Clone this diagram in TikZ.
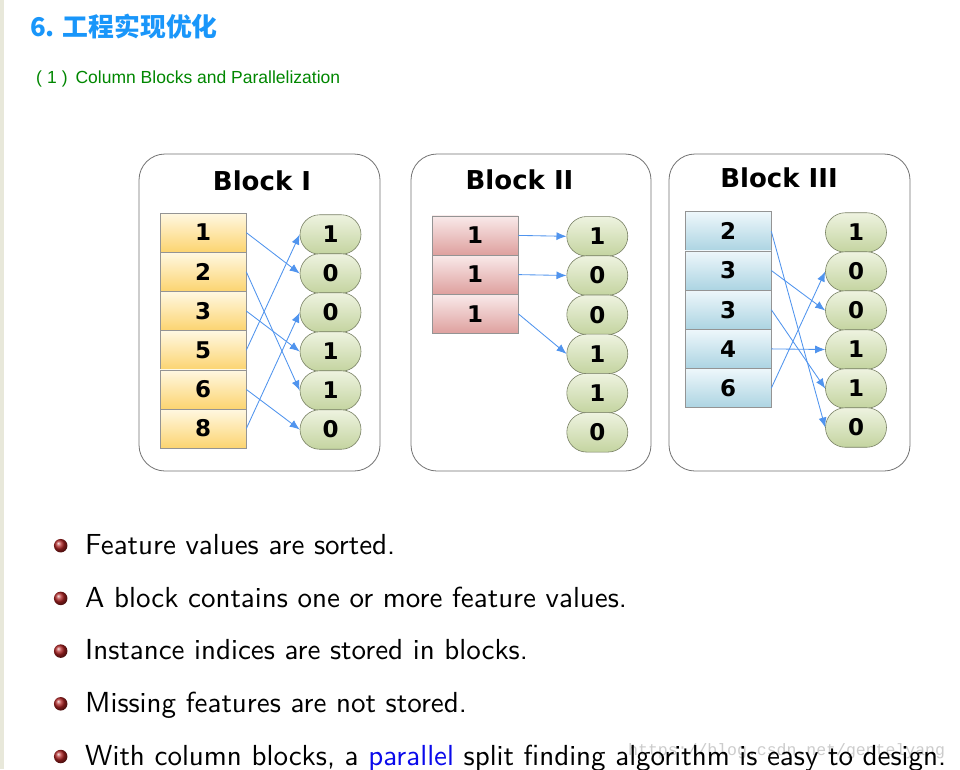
\documentclass[tikz,border=0pt]{standalone}
\usepackage{fontspec}
\usetikzlibrary{arrows.meta,shapes.misc}
\newfontfamily\cjk{Noto Sans CJK SC}
\newfontfamily\verd{DejaVu Sans}
\newfontfamily\arialf{Liberation Sans}
\newfontfamily\monof{Liberation Mono}
\newfontfamily\lmsten{lmsans10-regular.otf}
\definecolor{titleblue}{RGB}{25,150,250}
\definecolor{subgreen}{RGB}{0,135,0}
\definecolor{stripcol}{RGB}{232,232,218}
\definecolor{linkblue}{RGB}{80,148,238}
\definecolor{textblue}{RGB}{10,10,235}
\definecolor{bulletred}{RGB}{175,35,35}
\definecolor{yTop}{RGB}{255,248,226}
\definecolor{yBot}{RGB}{252,212,112}
\definecolor{rTop}{RGB}{249,234,234}
\definecolor{rBot}{RGB}{222,160,158}
\definecolor{bTop}{RGB}{238,247,251}
\definecolor{bBot}{RGB}{172,212,226}
\definecolor{gTop}{RGB}{238,243,224}
\definecolor{gBot}{RGB}{196,212,160}
\definecolor{gEdge}{RGB}{120,128,100}
\begin{document}
\begin{tikzpicture}[x=1pt,y=-1pt,
  blockbox/.style={draw=black!55, line width=0.8pt, rounded corners=26pt, fill=white, inner sep=0pt},
  blocktitle/.style={font=\verd\bfseries\fontsize{26}{30}\selectfont, anchor=base, inner sep=0pt},
  cellbase/.style={draw=black!42, line width=0.6pt, minimum width=86pt, minimum height=39.2pt, inner sep=0pt, font=\verd\bfseries\fontsize{23}{26}\selectfont},
  ycell/.style={cellbase, top color=yTop, bottom color=yBot},
  rcell/.style={cellbase, top color=rTop, bottom color=rBot},
  bcell/.style={cellbase, top color=bTop, bottom color=bBot},
  pill/.style={rounded rectangle, draw=gEdge, line width=0.6pt, minimum width=61pt, minimum height=39.5pt, inner sep=0pt, top color=gTop, bottom color=gBot, font=\verd\bfseries\fontsize{23}{26}\selectfont},
  link/.style={draw=linkblue, line width=0.85pt, -{Latex[length=10pt,width=8pt]}},
  bullettext/.style={anchor=base west, inner sep=0pt, font=\lmsten\fontsize{29}{34}\selectfont},
  ballmark/.style={circle, shading=ball, ball color=bulletred, minimum size=13.5pt, inner sep=0pt}
]
\useasboundingbox (0,0) rectangle (960,769);
\clip (0,0) rectangle (960,769);
\fill[white] (0,0) rectangle (960,769);
\fill[stripcol] (0,0) rectangle (4,769);

% headings
\node[anchor=base west, inner sep=0pt, text=titleblue, font=\cjk\bfseries\fontsize{25.8}{30}\selectfont] (title) at (30,36) {6. 工程实现优化};
\node[anchor=base west, inner sep=0pt, text=subgreen, font=\arialf\fontsize{17.5}{20}\selectfont] (sub) at (36,83) {(\hspace{5pt}1\hspace{5pt})\hspace{8pt}Column Blocks and Parallelization};

% block frames
\node[blockbox, minimum width=241pt, minimum height=317pt] (blk1) at (259.5,312.5) {};
\node[blockbox, minimum width=240pt, minimum height=317pt] (blk2) at (531,312.5) {};
\node[blockbox, minimum width=241pt, minimum height=317pt] (blk3) at (789.5,312.5) {};
\node[blocktitle] (bt1) at (262,190.5) {Block I};
\node[blocktitle] (bt2) at (519.5,189.5) {Block II};
\node[blocktitle] (bt3) at (779,187.5) {Block III};

% Block I
\node[ycell] (a1) at (203,232.6) {1};
\node[ycell] (a2) at (203,271.8) {2};
\node[ycell] (a3) at (203,311.0) {3};
\node[ycell] (a4) at (203,350.2) {5};
\node[ycell] (a5) at (203,389.4) {6};
\node[ycell] (a6) at (203,428.6) {8};
\node[pill] (p1) at (330.5,234.5) {1};
\node[pill] (p2) at (330.5,273.5) {0};
\node[pill] (p3) at (330.5,312.5) {0};
\node[pill] (p4) at (330.5,351.5) {1};
\node[pill] (p5) at (330.5,390.5) {1};
\node[pill] (p6) at (330.5,429.5) {0};
\draw[link] (a1.east) -- (p2.west);
\draw[link] (a2.east) -- (p5.west);
\draw[link] (a3.east) -- (p4.west);
\draw[link] (a4.east) -- (p1.west);
\draw[link] (a5.east) -- (p6.west);
\draw[link] (a6.east) -- (p3.west);

% Block II
\node[rcell] (c1) at (475,235.4) {1};
\node[rcell] (c2) at (475,274.6) {1};
\node[rcell] (c3) at (475,313.8) {1};
\node[pill] (q1) at (597.3,236.3) {1};
\node[pill] (q2) at (597.3,275.5) {0};
\node[pill] (q3) at (597.3,314.7) {0};
\node[pill] (q4) at (597.3,353.9) {1};
\node[pill] (q5) at (597.3,393.1) {1};
\node[pill] (q6) at (597.3,432.3) {0};
\draw[link] (c1.east) -- (q1.west);
\draw[link] (c2.east) -- (q2.west);
\draw[link] (c3.east) -- (q4.west);

% Block III
\node[bcell] (d1) at (728,231.3) {2};
\node[bcell] (d2) at (728,270.5) {3};
\node[bcell] (d3) at (728,309.7) {3};
\node[bcell] (d4) at (728,348.9) {4};
\node[bcell] (d5) at (728,388.1) {6};
\node[pill] (r1) at (856,232.5) {1};
\node[pill] (r2) at (856,271.5) {0};
\node[pill] (r3) at (856,310.5) {0};
\node[pill] (r4) at (856,349.5) {1};
\node[pill] (r5) at (856,388.5) {1};
\node[pill] (r6) at (856,427.5) {0};
\draw[link] (d1.east) -- (r6.west);
\draw[link] (d2.east) -- (r3.west);
\draw[link] (d3.east) -- (r5.west);
\draw[link] (d4.east) -- (r4.west);
\draw[link] (d5.east) -- (r2.west);

% watermark
\node[anchor=base west, inner sep=0pt, text=black!20, font=\monof\fontsize{16.5}{18}\selectfont] (wm) at (628,755) {https://blog.csdn.net/gentelyang};

% bullets
\node[ballmark] (m1) at (60.7,545.7) {};
\node[ballmark] (m2) at (60.7,598.4) {};
\node[ballmark] (m3) at (60.7,651.1) {};
\node[ballmark] (m4) at (60.7,703.8) {};
\node[ballmark] (m5) at (60.7,756.5) {};
\node[bullettext] (t1) at (85,554.5) {Feature values are sorted.};
\node[bullettext] (t2) at (85,607.2) {A block contains one or more feature values.};
\node[bullettext] (t3) at (85,659.9) {Instance indices are stored in blocks.};
\node[bullettext] (t4) at (85,712.6) {Missing features are not stored.};
\node[bullettext] (t5) at (85,765.3) {With column blocks, a \textcolor{textblue}{parallel} split finding algorithm is easy to design.};
\end{tikzpicture}
\end{document}
